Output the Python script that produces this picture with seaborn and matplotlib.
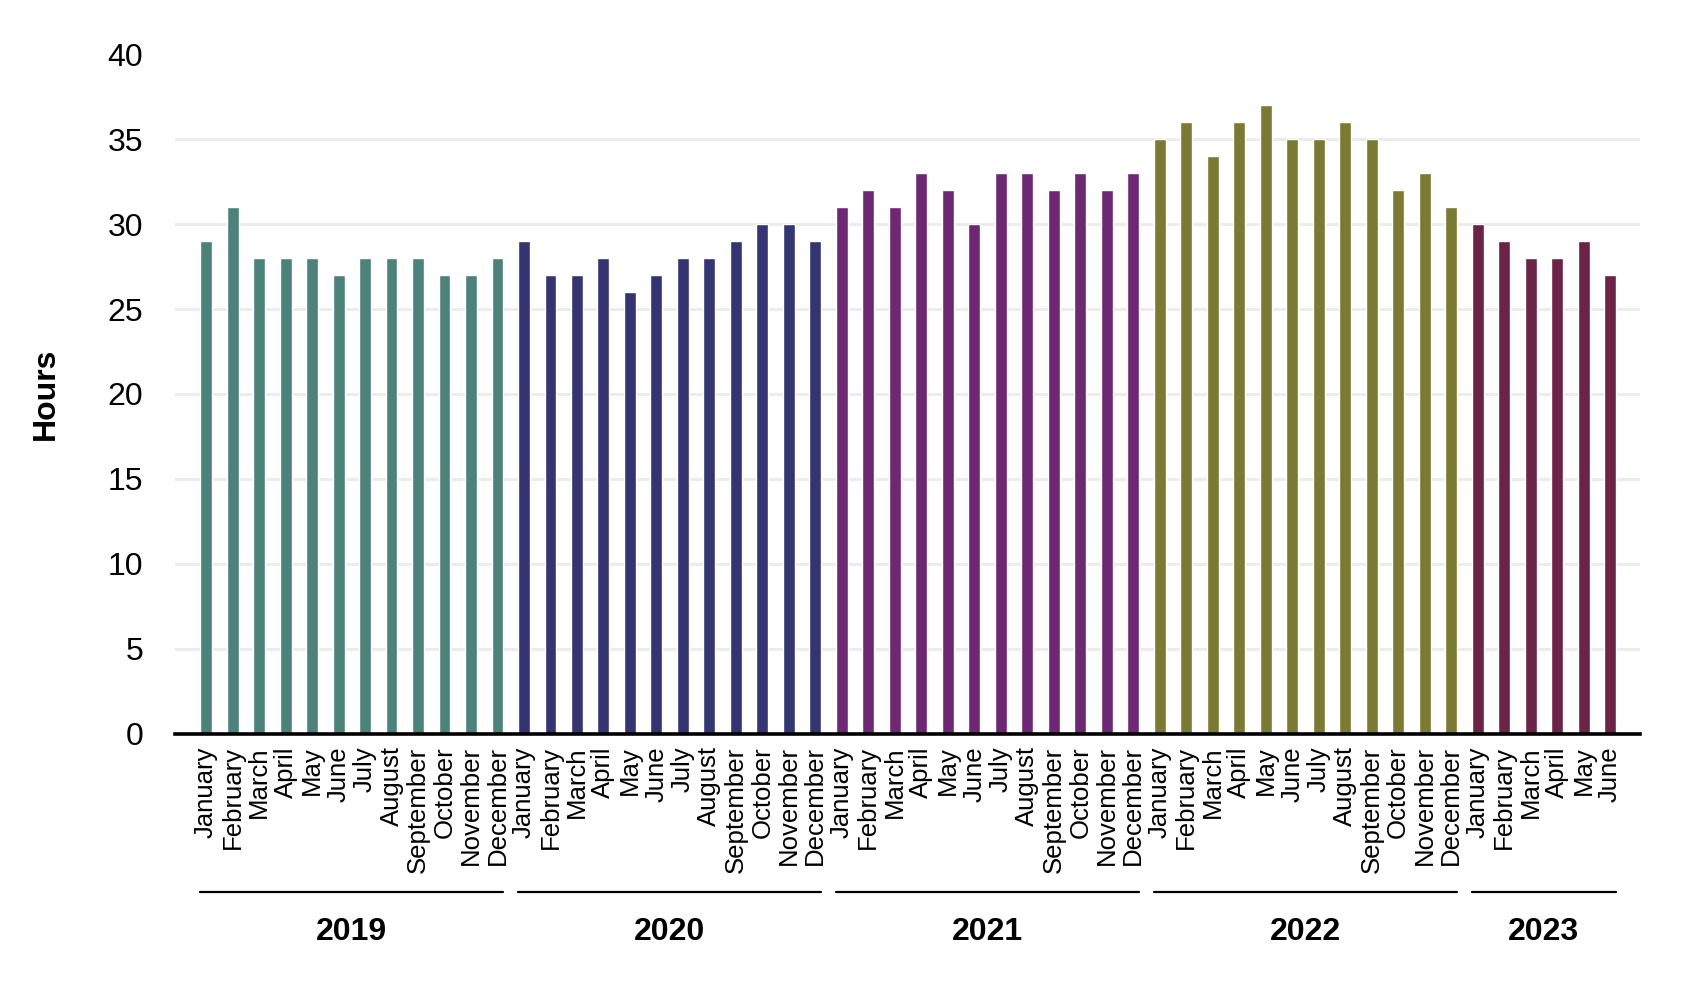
import numpy as np
import pandas as pd
import matplotlib
matplotlib.use("Agg")
import matplotlib.pyplot as plt
import matplotlib.transforms as mtransforms
import seaborn as sns

# ---------------- data ----------------
months_full = ["January", "February", "March", "April", "May", "June",
               "July", "August", "September", "October", "November", "December"]
years = ["2019", "2020", "2021", "2022", "2023"]

hours_2019 = [29, 31, 28, 28, 28, 27, 28, 28, 28, 27, 27, 28]
hours_2020 = [29, 27, 27, 28, 26, 27, 28, 28, 29, 30, 30, 29]
hours_2021 = [31, 32, 31, 33, 32, 30, 33, 33, 32, 33, 32, 33]
hours_2022 = [35, 36, 34, 36, 37, 35, 35, 36, 35, 32, 33, 31]
hours_2023 = [30, 29, 28, 28, 29, 27]

year_colors = ["#4D827A", "#343470", "#6E2873", "#7B7A32", "#6B2346"]

y_ticks = [0, 5, 10, 15, 20, 25, 30, 35, 40]
y_label = "Hours"

# ---------------- table ----------------
series = [hours_2019, hours_2020, hours_2021, hours_2022, hours_2023]
rows = []
for yr, vals in zip(years, series):
    for m, v in zip(months_full, vals):
        rows.append({"key": f"{yr}-{m}", "month": m, "year": yr, "hours": v})
df = pd.DataFrame(rows)
palette = dict(zip(years, year_colors))

# ---------------- style ----------------
sns.set_theme(style="white")
plt.rcParams["font.family"] = ["Liberation Sans", "DejaVu Sans"]

fig = plt.figure(figsize=(17, 9.84), dpi=100)
ax = fig.add_axes([0.103, 0.2541, 0.8617, 0.691])

sns.barplot(data=df, x="key", y="hours", hue="year", palette=palette,
            width=0.45, dodge=False, saturation=1, legend=False, ax=ax,
            order=list(df["key"]), hue_order=years)

n = len(df)
ax.set_xlim(-1.17, n - 1 + 1.13)
ax.set_ylim(0, 40)
ax.set_yticks(y_ticks)
ax.set_yticklabels([str(t) for t in y_ticks], fontsize=23, color="black")
ax.set_xticks(range(n))
ax.set_xticklabels(df["month"], rotation=90, fontsize=18.5, color="black")
ax.tick_params(axis="both", length=0)
ax.tick_params(axis="y", pad=23)
ax.tick_params(axis="x", pad=9)

ax.set_xlabel("")
ax.set_ylabel(y_label, fontsize=23, fontweight="bold", color="black")
ax.yaxis.set_label_coords(-0.078, 0.5)

ax.yaxis.grid(True, color="#EEECEB", linewidth=2.2)
ax.xaxis.grid(False)
ax.set_axisbelow(True)
gl = ax.get_ygridlines()
gl[-1].set_visible(False)

for s in ["top", "right", "left"]:
    ax.spines[s].set_visible(False)
ax.spines["bottom"].set_color("black")
ax.spines["bottom"].set_linewidth(2.6)

# ---------------- year brackets ----------------
trans = mtransforms.blended_transform_factory(ax.transData, ax.transAxes)
half = 0.45 / 2
start = 0
for yr, vals in zip(years, series):
    end = start + len(vals) - 1
    ax.plot([start - half, end + half], [-0.232, -0.232], color="black",
            linewidth=1.6, transform=trans, clip_on=False)
    ax.text((start + end) / 2, -0.291, yr, transform=trans, ha="center",
            va="center", fontsize=23, fontweight="bold", color="black")
    start = end + 1

fig.savefig("out.png", dpi=100, facecolor="white")
